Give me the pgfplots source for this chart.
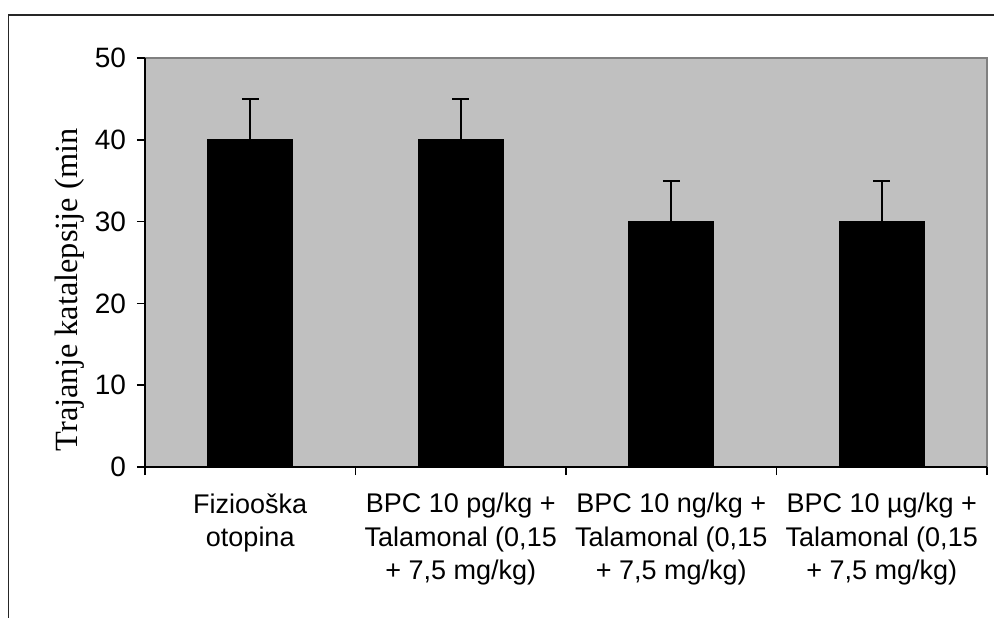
\documentclass[border=0pt]{standalone}
\usepackage{pgfplots}
\pgfplotsset{compat=1.18}
\usepackage{fontspec}
\setmainfont{Liberation Sans}
\newfontfamily\seriffont{Liberation Serif}
\definecolor{bgray}{HTML}{C0C0C0}
\definecolor{bordergray}{HTML}{808080}
\begin{document}
\begin{tikzpicture}
\useasboundingbox (0,0) rectangle (497pt,308.5pt);
\draw[line width=0.8pt, black!85] (4.3pt,-5pt) -- (4.3pt,301pt) -- (505pt,301pt);
\begin{axis}[
  at={(72.5pt,75pt)}, anchor=south west,
  scale only axis, width=421pt, height=204.5pt,
  xmin=0, xmax=4, ymin=0, ymax=50,
  axis x line*=bottom, axis y line*=left,
  axis line style={black, line width=0.8pt, -},
  axis background/.style={fill=bgray, draw=bordergray, line width=0.8pt},
  ytick={0,10,20,30,40,50},
  xtick={0.5,1.5,2.5,3.5},
  minor xtick={0,1,2,3,4},
  xticklabels={{Fiziooška\\otopina},{BPC 10 pg/kg +\\Talamonal (0,15\\+ 7,5 mg/kg)},{BPC 10 ng/kg +\\Talamonal (0,15\\+ 7,5 mg/kg)},{BPC 10 µg/kg +\\Talamonal (0,15\\+ 7,5 mg/kg)}},
  xticklabel style={align=center, font=\fontsize{13.5}{16.7}\selectfont, inner sep=0pt, yshift=-9pt},
  yticklabel style={font=\fontsize{14}{16}\selectfont, xshift=-2pt},
  /pgf/number format/assume math mode=true,
  tick align=outside,
  major x tick style={draw=none},
  major tick length=4pt, minor tick length=4pt,
  tick style={black, line width=0.8pt},
  ylabel={Trajanje katalepsije (min},
  ylabel style={font=\seriffont\fontsize{16.2}{19}\selectfont, at={(axis description cs:-0.089,0.433)}, anchor=center},
]
\addplot[ybar, bar width=42.5pt, fill=black, draw=black,
  error bars/.cd, y dir=plus, y explicit,
  error bar style={line width=0.8pt, black},
  error mark options={rotate=90, mark size=4.25pt, line width=0.8pt, black}]
  coordinates {(0.5,40) +- (0,5) (1.5,40) +- (0,5) (2.5,30) +- (0,5) (3.5,30) +- (0,5)};
\end{axis}
\end{tikzpicture}
\end{document}
